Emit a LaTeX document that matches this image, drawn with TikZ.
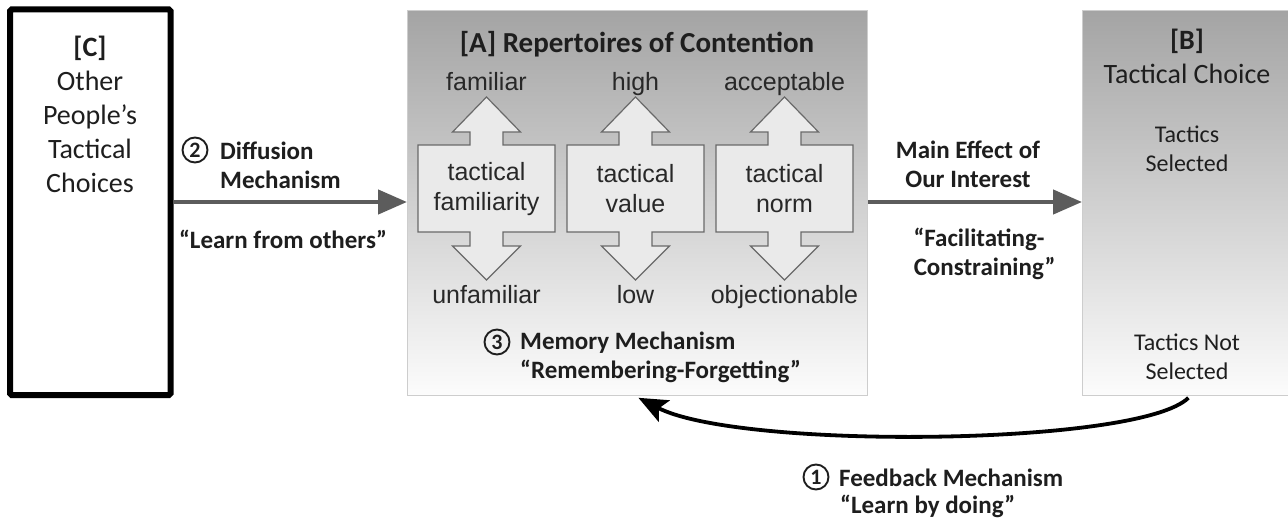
\documentclass[tikz,border=0pt]{standalone}
\usepackage{fontspec}
\setmainfont{Carlito}
\newfontfamily\arialf{Liberation Sans}
\usetikzlibrary{arrows.meta}
\definecolor{shadetop}{RGB}{164,164,164}
\definecolor{shadebot}{RGB}{252,252,252}
\definecolor{panelline}{RGB}{205,205,205}
\definecolor{arrgray}{RGB}{92,92,92}
\definecolor{txt}{RGB}{30,30,30}
\definecolor{innerfill}{RGB}{234,234,234}
\definecolor{innerline}{RGB}{105,105,105}
\begin{document}
\begin{tikzpicture}[x=1pt,y=-1pt,
  panel/.style={draw=panelline, line width=0.8pt, top color=shadetop, bottom color=shadebot,
    anchor=north west, inner sep=0pt, minimum height=385pt},
  cbox/.style={draw=black, line width=6pt, rounded corners=1.5pt, minimum width=160.5pt, minimum height=385.5pt, inner sep=0pt},
  bigtxt/.style={font=\fontsize{28}{34}\selectfont, text=txt, align=center},
  midtxt/.style={font=\fontsize{24}{28.5}\selectfont, text=txt, align=center},
  boldlab/.style={font=\bfseries\fontsize{25}{29}\selectfont, text=txt, inner sep=1pt},
  arlab/.style={font=\arialf\fontsize{25}{30}\selectfont, text={rgb,255:red,40;green,40;blue,40}, inner sep=0pt},
  dblarrow/.style={draw=innerline, fill=innerfill, line width=1.2pt, line join=miter},
  numcirc/.style={circle, draw=txt, line width=1.9pt, inner sep=0pt, minimum size=25pt,
    font=\bfseries\fontsize{22}{22}\selectfont, text=txt},
  flow/.style={draw=arrgray, line width=4.5pt, -{Triangle[length=29pt,width=24pt]}},
  fb/.style={draw=black, line width=3.8pt, -{Stealth[length=29pt,width=24pt,inset=6pt]}}
]
\useasboundingbox (0,0) rectangle (1288,519);
\fill[white] (0,0) rectangle (1288,519);

% boxes
\node[cbox] (C) at (90.25,202.25) {};
\node[panel, minimum width=460pt] (A) at (407,10) {};
\node[panel, minimum width=212pt] (B) at (1082,10) {};

% C text
\node[bigtxt] (Ctxt) at (90,114) {\textbf{[C]}\\Other\\People’s\\Tactical\\Choices};

% A title
\node[boldlab, font=\bfseries\fontsize{29}{32}\selectfont] (Atitle) at (637,44) {[A] Repertoires of Contention};

% inner double arrows
\foreach \cx/\id/\hi/\lo/\lab in {486.5/fam/familiar/unfamiliar/{tactical\\familiarity},
    635.5/val/high/low/{tactical\\value},
    784.5/nrm/acceptable/objectionable/{tactical\\norm}} {
  \draw[dblarrow] (\cx,97) -- (\cx+34,132) -- (\cx+16.5,132) -- (\cx+16.5,145) -- (\cx+68.5,145)
     -- (\cx+68.5,232) -- (\cx+16.5,232) -- (\cx+16.5,246) -- (\cx+34,246) -- (\cx,280)
     -- (\cx-34,246) -- (\cx-16.5,246) -- (\cx-16.5,232) -- (\cx-68.5,232) -- (\cx-68.5,145)
     -- (\cx-16.5,145) -- (\cx-16.5,132) -- (\cx-34,132) -- cycle;
  \node[arlab, text height=18pt, text depth=5pt] (\id-hi) at (\cx,84) {\hi};
  \node[arlab, text height=18pt, text depth=5pt] (\id-lo) at (\cx,297) {\lo};
  \node[arlab, align=center] (\id) at (\cx,189) {\lab};
}

% memory mechanism
\node[numcirc] (n3) at (497,342) {3};
\node[boldlab, anchor=west] (mem1) at (519,343) {Memory Mechanism};
\node[boldlab, anchor=west] (mem2) at (519,371) {“Remembering-Forgetting”};

% B text
\node[bigtxt] (Btxt) at (1187,56) {\textbf{[B]}\\Tactical Choice};
\node[midtxt] (sel) at (1187,149) {Tactics\\Selected};
\node[midtxt] (nsel) at (1187,357) {Tactics Not\\Selected};

% flows
\draw[flow] (C.east |- 0,202) -- (A.west |- 0,202);
\draw[flow] (A.east |- 0,202) -- (B.west |- 0,202);

\node[numcirc] (n2) at (195,150) {2};
\node[boldlab, anchor=west] (dif1) at (219,151) {Diffusion};
\node[boldlab, anchor=west] (dif2) at (219,180) {Mechanism};
\node[boldlab] (dif3) at (283,239) {“Learn from others”};

\node[boldlab, align=center] (main) at (968,164) {Main Effect of\\Our Interest};
\node[boldlab, align=center] (fac) at (979,254) {“Facilitating-\\\ \ Constraining”};

% feedback
\draw[fb] ([yshift=-2pt]B.south) .. controls (1140,446) and (740,450) .. ([xshift=1pt,yshift=-2pt]A.south);
\node[numcirc] (n1) at (816,477) {1};
\node[boldlab, anchor=west] (fb1) at (838,478) {Feedback Mechanism};
\node[boldlab, anchor=west] (fb2) at (839,506) {“Learn by doing”};
\end{tikzpicture}
\end{document}
